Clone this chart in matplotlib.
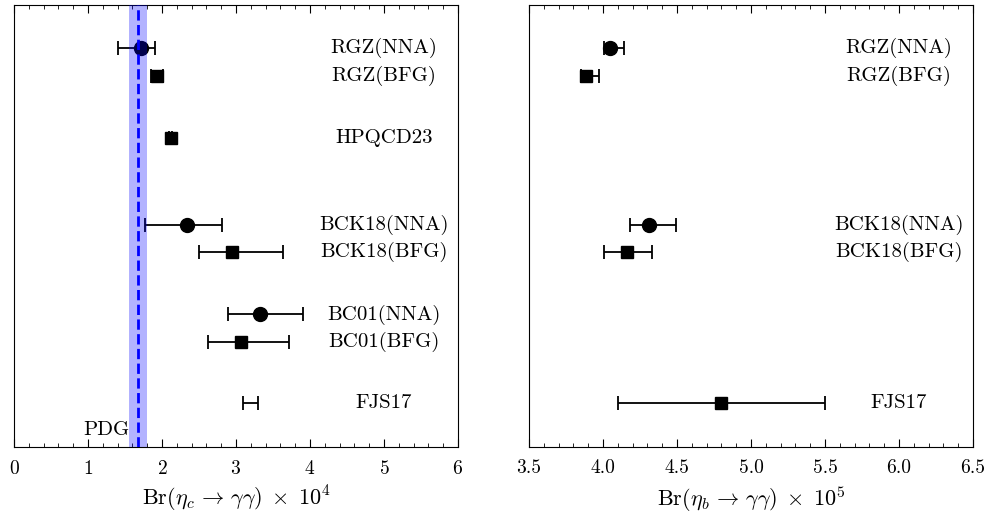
import numpy as np
import matplotlib
matplotlib.use("Agg")
import matplotlib.pyplot as plt
from matplotlib.ticker import MultipleLocator

plt.rcParams['font.family'] = 'serif'
plt.rcParams['font.serif'] = ['cmr10']
plt.rcParams['mathtext.fontset'] = 'cm'
plt.rcParams['axes.formatter.use_mathtext'] = True

# eta_c -> gamma gamma (x 1e4)
labels_c = ["RGZ(NNA)", "RGZ(BFG)", "HPQCD23", "BCK18(NNA)", "BCK18(BFG)",
            "BC01(NNA)", "BC01(BFG)", "FJS17"]
rows_c = [1.55, 2.55, 4.8, 7.95, 8.95, 11.2, 12.2, 14.4]
val_c = [1.72, 1.93, 2.12, 2.34, 2.95, 3.32, 3.07, 3.20]
lo_c = [1.40, 1.85, 2.10, 1.77, 2.50, 2.89, 2.62, 3.09]
hi_c = [1.90, 2.01, 2.14, 2.81, 3.64, 3.91, 3.72, 3.30]
mark_c = ["o", "s", "s", "o", "s", "o", "s", ""]

pdg_val = 1.68
pdg_lo = 1.56
pdg_hi = 1.80

# eta_b -> gamma gamma (x 1e5)
labels_b = ["RGZ(NNA)", "RGZ(BFG)", "BCK18(NNA)", "BCK18(BFG)", "FJS17"]
rows_b = [1.55, 2.55, 7.95, 8.95, 14.4]
val_b = [4.05, 3.885, 4.31, 4.16, 4.80]
lo_b = [4.01, 3.85, 4.18, 4.01, 4.10]
hi_b = [4.14, 3.97, 4.49, 4.33, 5.50]
mark_b = ["o", "s", "o", "s", "s"]

fig = plt.figure(figsize=(9.86, 5.16), dpi=100)
ax1 = fig.add_axes([0.0142, 0.1337, 0.4503, 0.8563])
ax2 = fig.add_axes([0.5365, 0.1337, 0.4503, 0.8563])


def draw(ax, rows, val, lo, hi, marks, labels, xtext):
    for y, v, l, h, m, lab in zip(rows, val, lo, hi, marks, labels):
        ms = 10 if m == "o" else 8.5
        ax.errorbar([v], [y], xerr=[[v - l], [h - v]], fmt=m if m else "none",
                    color="black", ms=ms, capsize=5, elinewidth=1.3, capthick=1.3,
                    zorder=2)
        ax.text(xtext, y, lab, ha="center", va="center", fontsize=15)
    ax.set_ylim(16, 0)
    ax.set_yticks([])
    ax.tick_params(axis="x", which="both", direction="in", top=True,
                   labelsize=14, pad=9)
    ax.tick_params(axis="x", which="major", length=6)
    ax.tick_params(axis="x", which="minor", length=3)


draw(ax1, rows_c, val_c, lo_c, hi_c, mark_c, labels_c, 5.0)
ax1.axvspan(pdg_lo, pdg_hi, color="blue", alpha=0.3, lw=0, zorder=3)
ax1.axvline(pdg_val, color="blue", ls="--", lw=2, zorder=4)
ax1.text(pdg_val - 0.12, 15.4, "PDG", ha="right", va="center", fontsize=15)
ax1.set_xlim(0, 6)
ax1.xaxis.set_major_locator(MultipleLocator(1))
ax1.xaxis.set_minor_locator(MultipleLocator(0.2))
ax1.set_xlabel(r"Br$(\eta_c \,\to\, \gamma\gamma)\;\times\; 10^4$", fontsize=16,
               labelpad=5)

draw(ax2, rows_b, val_b, lo_b, hi_b, mark_b, labels_b, 6.0)
ax2.set_xlim(3.5, 6.5)
ax2.xaxis.set_major_locator(MultipleLocator(0.5))
ax2.xaxis.set_minor_locator(MultipleLocator(0.1))
ax2.xaxis.set_major_formatter(matplotlib.ticker.FormatStrFormatter("%.1f"))
ax2.set_xlabel(r"Br$(\eta_b \,\to\, \gamma\gamma)\;\times\; 10^5$", fontsize=16,
               labelpad=5)

fig.savefig("out.png", dpi=100)
